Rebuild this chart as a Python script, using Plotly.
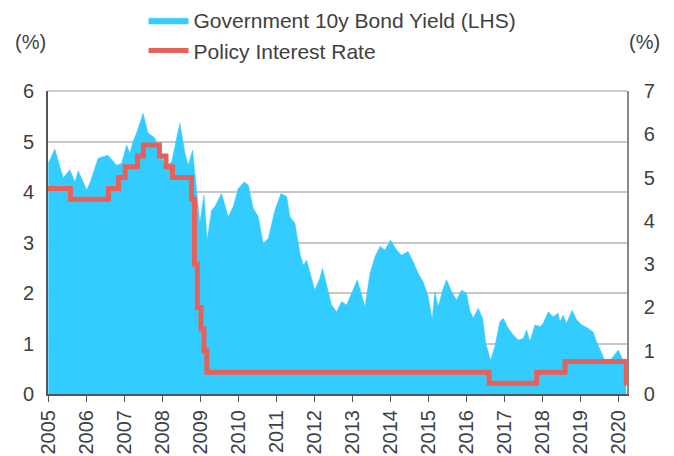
import plotly.graph_objects as go

# UK 10-year government bond yield (%), left axis
yield_dates = [
    "2005-01-04", "2005-03-08", "2005-04-25", "2005-05-27", "2005-07-30", "2005-09-16",
    "2005-10-18", "2006-01-07", "2006-02-07", "2006-04-27", "2006-07-30", "2006-10-21",
    "2006-12-08", "2007-01-25", "2007-02-25", "2007-03-28", "2007-05-01", "2007-07-02",
    "2007-08-19", "2007-10-23", "2007-12-26", "2008-01-27", "2008-04-01", "2008-06-19",
    "2008-08-07", "2008-09-07", "2008-10-19", "2008-11-27", "2008-12-28", "2009-02-05",
    "2009-03-08", "2009-04-19", "2009-05-21", "2009-06-22", "2009-07-24", "2009-09-26",
    "2009-11-13", "2009-12-31", "2010-02-27", "2010-04-06", "2010-05-24", "2010-07-11",
    "2010-08-28", "2010-10-15", "2010-12-18", "2011-02-14", "2011-04-10", "2011-05-11",
    "2011-06-28", "2011-08-15", "2011-09-16", "2011-10-18", "2011-12-05", "2012-01-05",
    "2012-02-22", "2012-03-19", "2012-04-27", "2012-06-14", "2012-08-01", "2012-09-18",
    "2012-11-05", "2013-01-08", "2013-02-15", "2013-03-29", "2013-04-30", "2013-06-17",
    "2013-08-04", "2013-09-21", "2013-11-08", "2013-12-31", "2014-02-28", "2014-04-16",
    "2014-06-18", "2014-08-06", "2014-09-23", "2014-11-10", "2014-12-28", "2015-02-04",
    "2015-03-01", "2015-04-02", "2015-05-20", "2015-06-22", "2015-08-09", "2015-09-26",
    "2015-11-13", "2015-12-31", "2016-01-31", "2016-03-03", "2016-04-20", "2016-06-02",
    "2016-07-03", "2016-08-17", "2016-09-27", "2016-11-14", "2016-12-16", "2017-02-03",
    "2017-03-23", "2017-05-10", "2017-06-27", "2017-07-29", "2017-08-30", "2017-10-17",
    "2017-12-04", "2018-01-04", "2018-02-21", "2018-04-09", "2018-05-27", "2018-06-13",
    "2018-07-14", "2018-08-16", "2018-10-09", "2018-11-20", "2019-01-07", "2019-03-11",
    "2019-04-28", "2019-05-31", "2019-07-01", "2019-08-18", "2019-09-19", "2019-11-06",
    "2019-12-24", "2020-01-26", "2020-02-10", "2020-03-09",
]
yield_values = [
    4.57, 4.85, 4.50, 4.28, 4.44, 4.20,
    4.42, 4.04, 4.18, 4.67, 4.73, 4.53,
    4.57, 4.93, 4.77, 5.00, 5.17, 5.56,
    5.17, 5.07, 4.73, 4.50, 4.60, 5.36,
    4.77, 4.53, 4.83, 3.98, 3.38, 3.94,
    3.05, 3.64, 3.71, 3.84, 3.97, 3.51,
    3.71, 4.07, 4.20, 4.14, 3.68, 3.51,
    2.98, 3.08, 3.64, 3.97, 3.91, 3.51,
    3.38, 2.79, 2.55, 2.65, 2.26, 2.06,
    2.29, 2.49, 2.16, 1.76, 1.63, 1.83,
    1.76, 2.06, 2.26, 1.96, 1.73, 2.39,
    2.72, 2.92, 2.85, 3.05, 2.85, 2.75,
    2.82, 2.62, 2.39, 2.22, 1.93, 1.47,
    2.03, 1.73, 2.09, 2.26, 2.03, 1.86,
    2.06, 1.99, 1.66, 1.50, 1.70, 1.50,
    1.00, 0.67, 0.94, 1.43, 1.50, 1.30,
    1.17, 1.07, 1.10, 1.27, 1.04, 1.37,
    1.33, 1.40, 1.63, 1.53, 1.60, 1.43,
    1.56, 1.40, 1.66, 1.47, 1.37, 1.30,
    1.23, 1.04, 0.90, 0.67, 0.64, 0.74,
    0.87, 0.74, 0.64, 0.40,
]

# Bank Rate (%), right axis, drawn as steps
rate_dates = [
    "2005-01-01", "2005-08-04", "2006-08-03", "2006-11-09", "2007-01-11", "2007-05-10",
    "2007-07-05", "2007-12-06", "2008-02-07", "2008-04-10", "2008-10-08", "2008-11-06",
    "2008-12-04", "2009-01-08", "2009-02-05", "2009-03-05", "2016-08-04", "2017-11-02",
    "2018-08-02", "2020-03-11", "2020-03-15",
]
rate_values = [
    4.75, 4.50, 4.75, 5.00, 5.25, 5.50,
    5.75, 5.50, 5.25, 5.00, 4.50, 3.00,
    2.00, 1.50, 1.00, 0.50, 0.25, 0.50,
    0.75, 0.25, 0.25,
]

year_ticks = [f"{y}-01-01" for y in range(2005, 2021)]
year_labels = [str(y) for y in range(2005, 2021)]

FONT = "Liberation Sans, Arial, sans-serif"
TEXT = "#404040"

fig = go.Figure()
fig.add_trace(go.Scatter(
    x=yield_dates, y=yield_values, name="Government 10y Bond Yield (LHS)",
    mode="lines", fill="tozeroy", fillcolor="#33CCFF",
    line=dict(color="#33CCFF", width=0.5),
))
fig.add_trace(go.Scatter(
    x=rate_dates, y=rate_values, name="Policy Interest Rate", yaxis="y2",
    mode="lines", line=dict(color="#E8605A", width=5, shape="hv"),
))

fig.update_layout(
    width=674, height=456,
    margin=dict(l=48, r=47, t=91, b=62),
    paper_bgcolor="white", plot_bgcolor="white",
    font=dict(family=FONT, size=20, color=TEXT),
    showlegend=True,
    legend=dict(
        orientation="v", x=0.165, xanchor="left", y=1.01, yanchor="top",
        yref="container", font=dict(size=21, color=TEXT),
        bgcolor="rgba(0,0,0,0)", itemwidth=40, tracegroupgap=0,
    ),
    xaxis=dict(
        type="date", range=["2005-01-01", "2020-03-18"],
        tickvals=year_ticks, ticktext=year_labels, tickangle=-90,
        ticks="outside", ticklen=6, tickcolor="#555555",
        showline=True, linecolor="#555555", linewidth=2,
        showgrid=False, zeroline=False, automargin=False,
    ),
    yaxis=dict(
        range=[0, 6], dtick=1, tickformat="d",
        showgrid=True, gridcolor="#C8C8C8", gridwidth=1.5,
        showline=True, linecolor="#555555", linewidth=2,
        zeroline=False, ticks="", ticklabelstandoff=8, automargin=False,
    ),
    yaxis2=dict(
        range=[0, 7], dtick=1, overlaying="y", side="right",
        showgrid=False, zeroline=False,
        showline=True, linecolor="#888888", linewidth=1.5,
        ticks="", ticklabelstandoff=11, automargin=False,
    ),
    annotations=[
        dict(text="(%)", xref="paper", yref="paper", x=-0.03, y=1.12,
             xanchor="center", yanchor="bottom", showarrow=False,
             font=dict(size=20, color=TEXT)),
        dict(text="(%)", xref="paper", yref="paper", x=1.03, y=1.12,
             xanchor="center", yanchor="bottom", showarrow=False,
             font=dict(size=20, color=TEXT)),
    ],
    shapes=[
        dict(type="line", xref="paper", yref="paper", x0=0, x1=1, y0=1, y1=1,
             line=dict(color="#BBBBBB", width=1.5)),
    ],
)

fig.write_html("out.html")
